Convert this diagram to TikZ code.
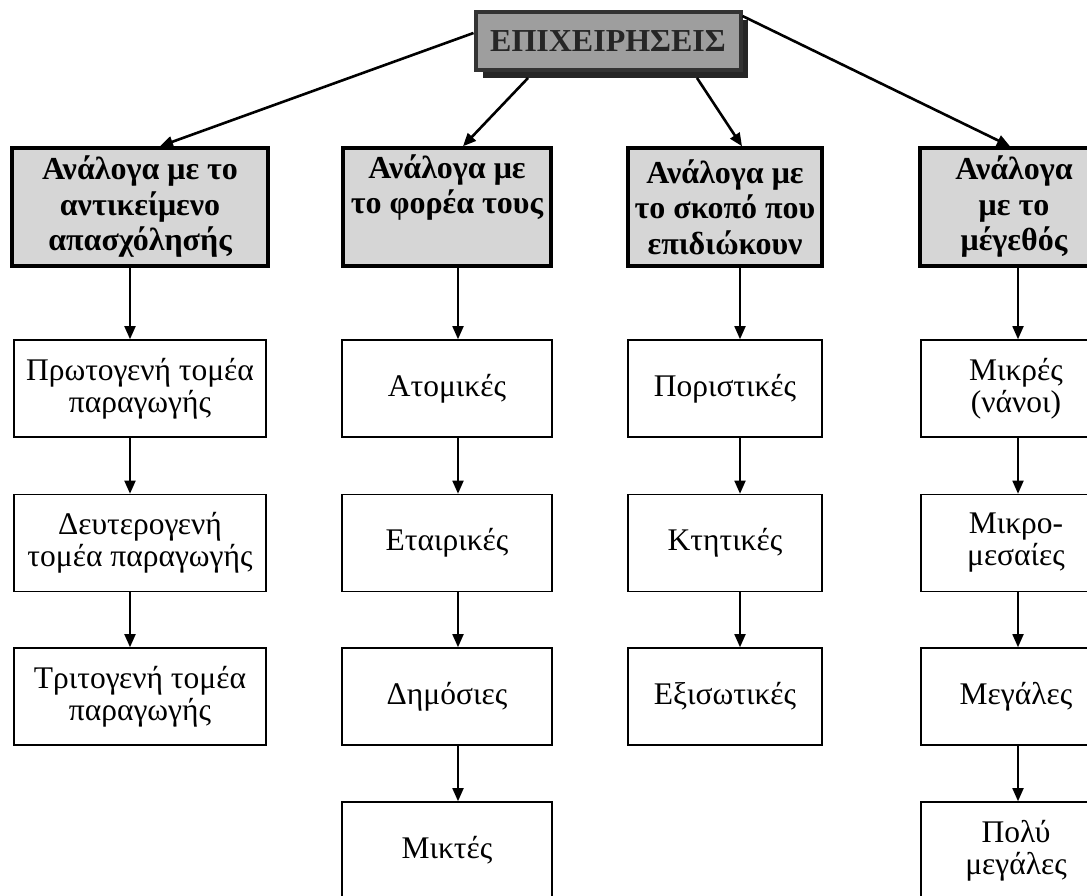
\documentclass[tikz,border=0pt]{standalone}
\usepackage{fontspec}
\setmainfont{Liberation Serif}
\usetikzlibrary{arrows.meta,shadows}
\begin{document}
\begin{tikzpicture}[x=1pt,y=-1pt,
 topbox/.style={draw=black!80, line width=4pt, fill=black!38, text=black!85,
   font=\fontsize{32}{36}\selectfont\bfseries, minimum width=265pt, minimum height=58pt, inner sep=0pt,
   drop shadow={shadow xshift=7pt, shadow yshift=-8pt, fill=black!85, opacity=1}},
 catbox/.style={draw=black, line width=3.5pt, fill=black!16, align=center,
   font=\fontsize{32}{35.5}\selectfont\bfseries, minimum height=118pt, inner sep=0pt},
 itembox/.style={draw=black, line width=1.6pt, fill=white, align=center,
   font=\fontsize{31.5}{32}\selectfont, minimum height=97pt, inner sep=0pt},
 conn/.style={line width=2.6pt, -{Triangle[length=13pt,width=11pt]}},
 down/.style={line width=1.8pt, -{Triangle[length=13pt,width=11pt]}},
]
\clip (0,0) rectangle (1087,896);
\fill[white] (0,0) rectangle (1087,896);

\node[topbox] (top) at (608,41) {ΕΠΙΧΕΙΡΗΣΕΙΣ};

\node[catbox, minimum width=256pt] (c1) at (140,207) {Ανάλογα με το\\αντικείμενο\\απασχόλησής};
\node[catbox, minimum width=208pt] (c2) at (447,207) {Ανάλογα με\\το φορέα τους\\\strut};
\node[catbox, minimum width=194pt] (c3) at (725,207) {Ανάλογα με\\το σκοπό που\\επιδιώκουν};
\node[catbox, minimum width=188pt] (c4) at (1014,207) {Ανάλογα\\με το\\μέγεθός};

\node[itembox, minimum width=252pt] (a1) at (140,388.5) {Πρωτογενή τομέα\\παραγωγής};
\node[itembox, minimum width=252pt] (a2) at (140,543) {Δευτερογενή\\τομέα παραγωγής};
\node[itembox, minimum width=252pt] (a3) at (140,696.5) {Τριτογενή τομέα\\παραγωγής};

\node[itembox, minimum width=210pt] (b1) at (447,388.5) {Ατομικές};
\node[itembox, minimum width=210pt] (b2) at (447,543) {Εταιρικές};
\node[itembox, minimum width=210pt] (b3) at (447,696.5) {Δημόσιες};
\node[itembox, minimum width=210pt] (b4) at (447,850.5) {Μικτές};

\node[itembox, minimum width=194pt] (d1) at (725,388.5) {Ποριστικές};
\node[itembox, minimum width=194pt] (d2) at (725,543) {Κτητικές};
\node[itembox, minimum width=194pt] (d3) at (725,696.5) {Εξισωτικές};

\node[itembox, minimum width=190pt] (e1) at (1016,388.5) {Μικρές\\(νάνοι)};
\node[itembox, minimum width=190pt] (e2) at (1016,543) {Μικρο-\\μεσαίες};
\node[itembox, minimum width=190pt] (e3) at (1016,696.5) {Μεγάλες};
\node[itembox, minimum width=190pt] (e4) at (1016,850.5) {Πολύ\\μεγάλες};

% top connectors
\draw[conn] ([yshift=8pt]top.west) -- ([xshift=20pt]c1.north);
\draw[conn] ([xshift=-80pt,yshift=-6pt]top.south) -- ([xshift=16pt]c2.north);
\draw[conn] ([xshift=89pt,yshift=-6pt]top.south) -- ([xshift=17pt]c3.north);
\draw[conn] ([yshift=-6pt]top.north east) -- ([xshift=-4pt]c4.north);

% column connectors
\draw[down] ([xshift=-10pt]c1.south) -- ([xshift=-10pt]a1.north);
\draw[down] ([xshift=-10pt]a1.south) -- ([xshift=-10pt]a2.north);
\draw[down] ([xshift=-10pt]a2.south) -- ([xshift=-10pt]a3.north);

\draw[down] ([xshift=11pt]c2.south) -- ([xshift=11pt]b1.north);
\draw[down] ([xshift=11pt]b1.south) -- ([xshift=11pt]b2.north);
\draw[down] ([xshift=11pt]b2.south) -- ([xshift=11pt]b3.north);
\draw[down] ([xshift=11pt]b3.south) -- ([xshift=11pt]b4.north);

\draw[down] ([xshift=15pt]c3.south) -- ([xshift=15pt]d1.north);
\draw[down] ([xshift=15pt]d1.south) -- ([xshift=15pt]d2.north);
\draw[down] ([xshift=15pt]d2.south) -- ([xshift=15pt]d3.north);

\draw[down] ([xshift=4pt]c4.south) -- ([xshift=2pt]e1.north);
\draw[down] ([xshift=2pt]e1.south) -- ([xshift=2pt]e2.north);
\draw[down] ([xshift=2pt]e2.south) -- ([xshift=2pt]e3.north);
\draw[down] ([xshift=2pt]e3.south) -- ([xshift=2pt]e4.north);
\end{tikzpicture}
\end{document}
